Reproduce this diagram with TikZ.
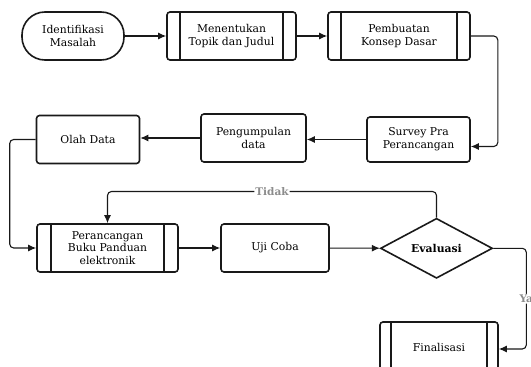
\documentclass[tikz,border=0pt]{standalone}
\usepackage{fontspec}
\setmainfont{DejaVu Serif}
\usetikzlibrary{arrows.meta, positioning, calc, shapes.geometric}
\definecolor{fcLine}{RGB}{25,25,25}
\definecolor{fcLabel}{RGB}{140,140,140}

\begin{document}
\begin{tikzpicture}[x=1pt, y=-1pt, font=\fontsize{10.8}{12.8}\selectfont,
    box/.style={draw=fcLine, line width=1.6pt, rounded corners=3pt,
                align=center, minimum height=48pt, inner sep=2pt},
    term/.style={box, rounded corners=23pt},
    proc/.style={box, path picture={
        \draw[line width=1.3pt] ([xshift=#1]path picture bounding box.north west)
            -- ([xshift=#1]path picture bounding box.south west);
        \draw[line width=1.3pt] ([xshift=-#1]path picture bounding box.north east)
            -- ([xshift=-#1]path picture bounding box.south east);}},
    proc/.default=13pt,
    dec/.style={draw=fcLine, line width=1.6pt, diamond, aspect=1.85,
                minimum width=112pt, minimum height=60pt, inner sep=0pt,
                font=\fontsize{10.8}{12.8}\selectfont\bfseries},
    arr/.style={-{Latex[length=8pt, width=7pt]}, line width=1.1pt,
                draw=fcLine, rounded corners=4pt},
    lbl/.style={font=\fontsize{10.5}{12}\selectfont\bfseries, text=fcLabel,
                fill=white, inner sep=1pt}]
\useasboundingbox (0,0) rectangle (531,367);
\clip (0,0) rectangle (531,367);

% TOP ROW
\node[term, minimum width=102pt] (ident) at (73,36) {Identifikasi\\Masalah};
\node[proc, minimum width=129pt] (topik) at (231.5,36) {Menentukan\\Topik dan Judul};
\node[proc, minimum width=142pt] (konsep) at (399,36) {Pembuatan\\Konsep Dasar};

% MIDDLE ROW
\node[box, minimum width=103pt, minimum height=45pt] (survey) at (418.5,139.5)
   {Survey Pra\\Perancangan};
\node[box, minimum width=105pt] (kumpul) at (253.5,138) {Pengumpulan\\data};
\node[box, minimum width=103pt] (olah) at (88,139.5) {Olah Data};

% BOTTOM ROW
\node[proc=14pt, minimum width=141pt] (rancang) at (107.5,248)
   {Perancangan\\Buku Panduan\\elektronik};
\node[box, minimum width=108pt] (uji) at (275,248) {Uji Coba};
\node[dec] (eval) at (436.5,248.3) {Evaluasi};
\node[proc=11pt, minimum width=118pt, minimum height=50pt] (final) at (439,347)
   {Finalisasi};

% Connectors
\draw[arr] (ident) -- (topik);
\draw[arr] (topik) -- (konsep);
\draw[arr] (konsep.east) -- ++(27,0) |- ([yshift=-7pt]survey.east);
\draw[arr] (survey.west) -- (survey.west -| kumpul.east);
\draw[arr] (kumpul.west) -- (kumpul.west -| olah.east);
\draw[arr] (olah.west) -- ++(-26,0) |- (rancang.west);
\draw[arr] (rancang) -- (uji);
\draw[arr] (uji) -- (eval);
\draw[arr] (eval.north) -- ++(0,-26) -| node[lbl, pos=0.25] {Tidak} (rancang.north);
\draw[arr] (eval.east) -- ++(33,0) |- node[lbl, pos=0.25] {Ya} ([yshift=-2pt]final.east);

\end{tikzpicture}
\end{document}
